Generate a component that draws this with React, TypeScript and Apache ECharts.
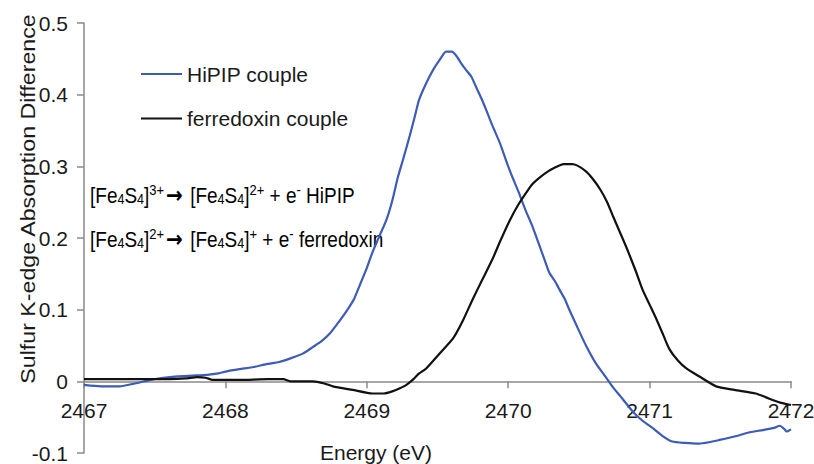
import React, { useEffect, useRef } from "react";
import * as echarts from "echarts";

// HiPIP couple difference spectrum (energy in eV, absorption difference)
const hipipEnergy = [
  2467.0, 2467.12, 2467.25, 2467.36, 2467.47, 2467.56, 2467.66, 2467.77, 2467.87, 2467.95,
  2468.01, 2468.1, 2468.2, 2468.29, 2468.38, 2468.46, 2468.55, 2468.62, 2468.68, 2468.74,
  2468.81, 2468.86, 2468.91, 2468.95, 2469.0, 2469.04, 2469.09, 2469.14, 2469.18, 2469.22,
  2469.26, 2469.3, 2469.34, 2469.37, 2469.42, 2469.47, 2469.52, 2469.56, 2469.6, 2469.63,
  2469.67, 2469.7, 2469.74, 2469.77, 2469.81, 2469.85, 2469.89, 2469.94, 2470.0, 2470.04,
  2470.08, 2470.12, 2470.17, 2470.22, 2470.26, 2470.29, 2470.33, 2470.36, 2470.4, 2470.43,
  2470.49, 2470.55, 2470.62, 2470.69, 2470.74, 2470.79, 2470.88, 2470.95, 2471.02, 2471.09,
  2471.16, 2471.25, 2471.35, 2471.42, 2471.49, 2471.6, 2471.71, 2471.8, 2471.88, 2471.92,
  2471.95, 2471.97, 2472.0,
];
const hipipDiff = [
  -0.005, -0.007, -0.007, -0.003, 0.002, 0.005, 0.007, 0.008, 0.009, 0.011,
  0.014, 0.017, 0.02, 0.024, 0.027, 0.032, 0.039, 0.048, 0.056, 0.067,
  0.085, 0.099, 0.115, 0.134, 0.158, 0.18, 0.203, 0.226, 0.252, 0.285,
  0.312, 0.34, 0.37, 0.393, 0.416, 0.435, 0.45, 0.46, 0.46, 0.455,
  0.443, 0.435, 0.425, 0.412, 0.395, 0.376, 0.356, 0.333, 0.3, 0.28,
  0.261, 0.24, 0.217, 0.19, 0.168, 0.152, 0.14, 0.129, 0.115, 0.101,
  0.075, 0.05, 0.025, 0.006, -0.008, -0.02, -0.042, -0.055, -0.065, -0.076,
  -0.084, -0.086, -0.087, -0.085, -0.082, -0.077, -0.071, -0.068, -0.065, -0.062,
  -0.066, -0.07, -0.067,
];

// ferredoxin couple difference spectrum
const fdEnergy = [
  2467.0, 2467.3, 2467.6, 2467.72, 2467.8, 2467.86, 2467.91, 2468.1, 2468.3, 2468.41,
  2468.46, 2468.62, 2468.7, 2468.76, 2468.9, 2469.04, 2469.12, 2469.18, 2469.23, 2469.28,
  2469.33, 2469.37, 2469.42, 2469.52, 2469.61, 2469.68, 2469.75, 2469.82, 2469.89, 2469.94,
  2470.01, 2470.07, 2470.13, 2470.17, 2470.22, 2470.29, 2470.35, 2470.39, 2470.45, 2470.49,
  2470.55, 2470.6, 2470.65, 2470.7, 2470.74, 2470.79, 2470.84, 2470.9, 2470.95, 2471.0,
  2471.05, 2471.1, 2471.14, 2471.2, 2471.26, 2471.35, 2471.47, 2471.6, 2471.75, 2471.82,
  2471.87, 2471.93, 2472.0,
];
const fdDiff = [
  0.003, 0.003, 0.003, 0.004, 0.006, 0.005, 0.002, 0.002, 0.003, 0.003,
  0.0, 0.0, -0.003, -0.007, -0.012, -0.017, -0.017, -0.014, -0.01, -0.005,
  0.003, 0.011, 0.018, 0.04, 0.06, 0.085, 0.115, 0.143, 0.171, 0.194,
  0.224, 0.246, 0.264, 0.275, 0.284, 0.294, 0.3, 0.303, 0.303, 0.301,
  0.293, 0.282, 0.268, 0.25, 0.231, 0.208, 0.185, 0.155, 0.128, 0.107,
  0.086, 0.063, 0.045, 0.029, 0.018, 0.007, -0.007, -0.012, -0.017, -0.022,
  -0.026, -0.03, -0.033,
];

const seriesNames = ["HiPIP couple", "ferredoxin couple"];
const xAxisTitle = "Energy (eV)";
const yAxisTitle = "Sulfur K-edge Absorption Difference";

const FONT = "'Liberation Sans', Arial, Helvetica, sans-serif";
const TEXT = "#1a1a1a";
const AXIS = "#8a8a8a";
const BLUE = "#3c5cb5";
const BLACK = "#111111";

// y range of the plot, used to put the energy axis on the zero line
const Y_MIN = -0.1;
const Y_MAX = 0.5;
const GRID_TOP = 23;
const GRID_BOTTOM = 11;
const CHART_H = 464;

export default function App() {
  const ref = useRef<HTMLDivElement>(null);

  useEffect(() => {
    if (!ref.current) return;
    const chart = echarts.init(ref.current, null, { renderer: "svg" });

    const pairs = (xs: number[], ys: number[]) => xs.map((x, i) => [x, ys[i]]);

    // distance from the grid's bottom edge up to y = 0
    const plotH = CHART_H - GRID_TOP - GRID_BOTTOM;
    const zeroOffset = (plotH * (0 - Y_MIN)) / (Y_MAX - Y_MIN);

    const rich = {
      n: { fontSize: 19, fontFamily: FONT, color: TEXT },
      a: { fontSize: 20, fontFamily: "'DejaVu Sans', sans-serif", fontWeight: "bold", color: TEXT, padding: [0, 2, 0, 2] },
      sub: { fontSize: 12.5, fontFamily: FONT, color: TEXT, padding: [8, 0, 0, 0] },
      sup: { fontSize: 13, fontFamily: FONT, color: TEXT, padding: [0, 0, 9, 0] },
    };
    const eqHipip =
      "{n|[Fe}{sub|4}{n|S}{sub|4}{n|]}{sup|3+}{a|→}{n| [Fe}{sub|4}{n|S}{sub|4}{n|]}{sup|2+}{n| + e}{sup|-}{n| HiPIP}";
    const eqFd =
      "{n|[Fe}{sub|4}{n|S}{sub|4}{n|]}{sup|2+}{a|→}{n| [Fe}{sub|4}{n|S}{sub|4}{n|]}{sup|+}{n| + e}{sup|-}{n| ferredoxin}";

    const lineIcon = "path://M0,11 L41,11 L41,13 L0,13 Z";

    chart.setOption({
      animation: false,
      backgroundColor: "#ffffff",
      grid: {
        left: 84,
        right: 23,
        top: GRID_TOP,
        bottom: GRID_BOTTOM,
        outerBoundsMode: "none",
        containLabel: false,
      },
      legend: {
        orient: "vertical",
        left: 136,
        top: 57,
        padding: 5,
        itemWidth: 41,
        itemHeight: 24,
        itemGap: 20.5,
        data: [
          { name: seriesNames[0], icon: lineIcon },
          { name: seriesNames[1], icon: lineIcon },
        ],
        textStyle: { fontSize: 21, fontFamily: FONT, color: TEXT, lineHeight: 24 },
      },
      xAxis: {
        type: "value",
        min: 2467,
        max: 2472,
        interval: 1,
        position: "bottom",
        offset: -zeroOffset,
        axisLine: { show: true, onZero: false, lineStyle: { color: AXIS, width: 1.5 } },
        axisTick: { show: true, length: 7, lineStyle: { color: AXIS, width: 1.5 } },
        axisLabel: {
          fontSize: 21,
          fontFamily: FONT,
          color: TEXT,
          margin: 19,
          formatter: (v: number) => String(Math.round(v)),
        },
        splitLine: { show: false },
      },
      yAxis: {
        type: "value",
        min: Y_MIN,
        max: Y_MAX,
        interval: 0.1,
        axisLine: { show: true, onZero: false, lineStyle: { color: AXIS, width: 1.5 } },
        axisTick: { show: true, length: 7, lineStyle: { color: AXIS, width: 1.5 } },
        axisLabel: {
          fontSize: 21,
          fontFamily: FONT,
          color: TEXT,
          margin: 16,
          lineHeight: 18,
          formatter: (v: number) => String(Math.round(v * 10) / 10),
        },
        splitLine: { show: false },
      },
      graphic: [
        {
          type: "text",
          x: 376,
          y: 452,
          style: {
            text: xAxisTitle,
            fontSize: 21,
            fontFamily: FONT,
            fill: TEXT,
            align: "center",
            verticalAlign: "middle",
          },
        },
        {
          type: "text",
          x: 28,
          y: 199,
          rotation: Math.PI / 2,
          scaleX: 1.16,
          style: {
            text: yAxisTitle,
            fontSize: 20,
            fontFamily: FONT,
            fill: TEXT,
            align: "center",
            verticalAlign: "middle",
          },
        },
        {
          type: "text",
          x: 90,
          y: 194.5,
          scaleY: 1.15,
          style: { text: eqHipip, rich, align: "left", verticalAlign: "middle" },
        },
        {
          type: "text",
          x: 90,
          y: 238.5,
          scaleY: 1.15,
          style: { text: eqFd, rich, align: "left", verticalAlign: "middle" },
        },
      ],
      series: [
        {
          name: seriesNames[0],
          type: "line",
          data: pairs(hipipEnergy, hipipDiff),
          showSymbol: false,
          symbol: "none",
          smooth: 0.2,
          lineStyle: { color: BLUE, width: 2.2 },
          itemStyle: { color: BLUE },
        },
        {
          name: seriesNames[1],
          type: "line",
          data: pairs(fdEnergy, fdDiff),
          showSymbol: false,
          symbol: "none",
          smooth: 0.2,
          lineStyle: { color: BLACK, width: 2.2 },
          itemStyle: { color: BLACK },
        },
      ],
    });

    return () => chart.dispose();
  }, []);

  return (
    <div
      ref={ref}
      style={{ position: "fixed", left: 0, top: 0, width: 814, height: 464, background: "#fff" }}
    />
  );
}
